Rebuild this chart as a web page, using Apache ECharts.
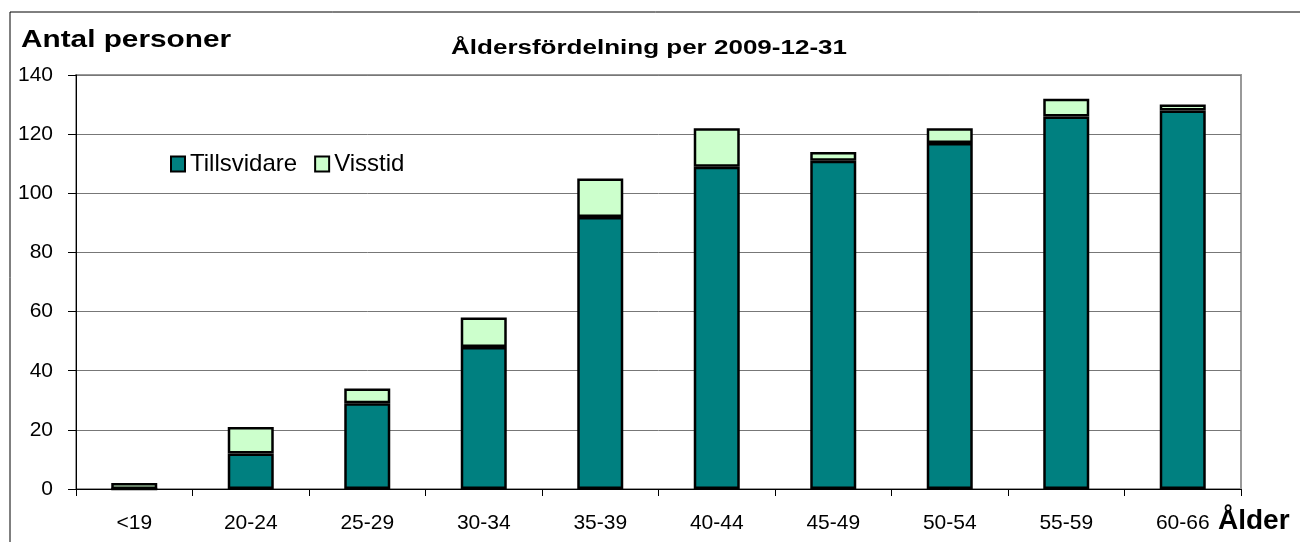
<!DOCTYPE html>
<html>
<head>
<meta charset="utf-8">
<script src="https://cdn.jsdelivr.net/npm/echarts@6/dist/echarts.min.js"></script>
<style>
html,body{margin:0;padding:0;background:#fff;}
#c{width:1300px;height:542px;}
</style>
</head>
<body>
<div id="c"></div>
<script>
var categories = ['<19','20-24','25-29','30-34','35-39','40-44','45-49','50-54','55-59','60-66'];
var tillsvidare = [0,12,29,48,92,109,111,117,126,128];
var visstid = [2,9,5,10,13,13,3,5,6,2];
var yTicks = [0,20,40,60,80,100,120,140];

var FONT = '"Liberation Sans", Arial, sans-serif';
var chart = echarts.init(document.getElementById('c'), null, {renderer:'canvas'});
chart.setOption({
  animation:false,
  backgroundColor:'#fff',
  grid:{left:76,right:59,top:75,bottom:53,show:true,borderColor:'#999',borderWidth:2,backgroundColor:'transparent'},
  legend:{
    left:165, top:147, itemWidth:14, itemHeight:15, itemGap:17,
    icon:'rect',
    textStyle:{fontFamily:FONT,fontSize:24,color:'#000'},
    data:['Tillsvidare','Visstid']
  },
  xAxis:{
    type:'category', data:categories,
    axisLine:{lineStyle:{color:'#000',width:1}},
    axisTick:{show:true,alignWithLabel:false,length:7,lineStyle:{color:'#000'}},
    axisLabel:{fontFamily:FONT,fontSize:21,color:'#000',margin:24,interval:0},
    splitLine:{show:false}
  },
  yAxis:{
    type:'value', min:yTicks[0], max:yTicks[yTicks.length-1], interval:20,
    axisLine:{show:true,lineStyle:{color:'#000',width:1}},
    axisTick:{show:true,length:8,lineStyle:{color:'#000'}},
    axisLabel:{fontFamily:FONT,fontSize:21,color:'#000',margin:23},
    splitLine:{show:true,lineStyle:{color:'#777',width:1}}
  },
  series:[
    {name:'Tillsvidare',type:'bar',stack:'a',data:tillsvidare,barWidth:46,
     itemStyle:{color:'#008080',borderColor:'#000',borderWidth:2.5}},
    {name:'Visstid',type:'bar',stack:'a',data:visstid,barWidth:46,
     itemStyle:{color:'#CCFFCC',borderColor:'#000',borderWidth:2.5}}
  ],
  graphic:[
    {type:'rect',shape:{x:10,y:12,width:1300,height:540},style:{fill:'none',stroke:'#000',lineWidth:1},silent:true,z:-1},
    {type:'text',x:21,y:40,scaleX:1.24,style:{text:'Antal personer',font:'bold 24px '+FONT,fill:'#000',textVerticalAlign:'middle'}},
    {type:'text',x:649,y:48,scaleX:1.3,style:{text:'Åldersfördelning per 2009-12-31',font:'bold 20px '+FONT,fill:'#000',textAlign:'center',textVerticalAlign:'middle'}},
    {type:'text',x:1218,y:521,style:{text:'Ålder',font:'bold 28px '+FONT,fill:'#000',textVerticalAlign:'middle'}}
  ]
});
</script>
</body>
</html>
